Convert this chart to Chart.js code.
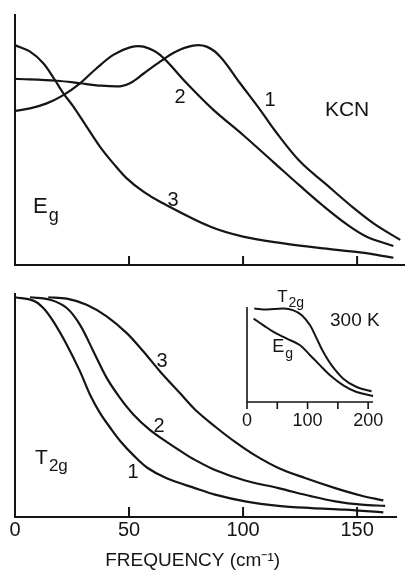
<!DOCTYPE html>
<html>
<head>
<meta charset="utf-8">
<script src="https://cdn.jsdelivr.net/npm/chart.js@4.4.1/dist/chart.umd.min.js"></script>
<style>
  body { margin: 0; background: #fff; }
  #wrap { position: relative; width: 411px; height: 571px; overflow: hidden; }
  canvas { position: absolute; }
</style>
</head>
<body>
<div id="wrap">
  <canvas id="egChart" width="411" height="280" style="left:0;top:0"></canvas>
  <canvas id="t2gChart" width="411" height="291" style="left:0;top:280px"></canvas>
  <canvas id="insetChart" width="175" height="150" style="left:230px;top:285px"></canvas>
</div>
<script>
// ---- data (frequency in cm-1, intensity in arbitrary units) ----
// upper panel, E_g, curves 1..3
const egFreq1 = [0, 18.3, 28.5, 35.8, 46.1, 50.4, 56.3, 63.6, 70, 78, 84, 90, 98.7, 107.5, 114, 125, 136.7, 146.9, 157.2, 168.9];
const eg1 = [74.2, 73.4, 72.4, 71.6, 71.2, 72.4, 76.2, 81.0, 84.8, 87.4, 87.0, 83.0, 72.4, 61.8, 53.5, 41.2, 31.9, 23.9, 16.6, 10.0];
const egFreq2 = [0, 6.6, 13.9, 21.2, 28.5, 35.8, 43.1, 50.4, 56.3, 63.6, 75.3, 87, 100, 113.3, 125, 135.2, 145.5, 154.2, 165.9];
const eg2 = [61.4, 62.4, 64.4, 67.7, 72.4, 78.4, 83.7, 86.7, 87.0, 83.7, 72.4, 61.8, 51.8, 41.0, 31.5, 23.5, 16.2, 11.3, 7.6];
const egFreq3 = [0, 6.6, 12.4, 17.5, 21.2, 25.6, 31.4, 37.3, 43.1, 49, 56.3, 63.6, 85.5, 100, 117.7, 135.2, 151.3, 165.9];
const eg3 = [87.6, 85.0, 80.4, 73.7, 68.4, 63.1, 55.1, 47.1, 40.5, 34.5, 29.2, 25.2, 15.3, 11.3, 8.6, 6.6, 5.0, 2.9];

// lower panel, T_2g, curves 1..3
const t2gFreq1 = [0, 8, 12.4, 16.8, 22.7, 28.5, 32.9, 37.3, 42, 46.5, 52, 58, 66.5, 78.9, 87.7, 100.9, 115.5, 130.1, 144.7, 161.5];
const t2g1 = [98.1, 96.6, 93.3, 87.3, 76.9, 65.0, 54.6, 46.4, 39.5, 33.5, 27.5, 22.0, 17.3, 12.9, 10.0, 7.0, 5.0, 4.0, 3.3, 2.1];
const t2gFreq2 = [6.6, 15.4, 22.7, 28.5, 34.4, 40.2, 46.1, 52, 59, 66.5, 74, 78.9, 87.7, 100.9, 115.5, 130.1, 140.4, 152, 162.3];
const t2g2 = [98.1, 97.0, 93.3, 85.8, 73.9, 62.1, 53.1, 45.7, 39.0, 33.5, 28.5, 25.5, 21.0, 16.3, 12.9, 9.2, 7.0, 5.5, 5.0];
const t2gFreq3 = [14.6, 22.7, 31.4, 40.2, 49, 56.3, 63.6, 72.4, 78.9, 87.7, 96.5, 105.3, 115.5, 127.2, 140.4, 152, 161.5];
const t2g3 = [98.1, 97.5, 94.8, 89.6, 82.1, 73.9, 65.0, 55.2, 48.0, 40.4, 33.5, 27.5, 21.9, 17.4, 12.9, 9.5, 7.4];

// inset, 300 K
const insetFreqT2g = [12, 32.9, 60.2, 76.6, 90.5, 104.1, 115.1, 126, 139.8, 158.9, 180.9, 205.6];
const insetT2g = [98.3, 97.3, 98.3, 96.5, 91.3, 80.7, 66.7, 52.6, 38.6, 24.6, 15.8, 11.3];
const insetFreqEg = [10.9, 27.3, 43.8, 65.8, 87.7, 104.1, 120.6, 137, 158.9, 180.9, 208.2];
const insetEg = [87.8, 80.7, 73.7, 66.7, 59.7, 49.2, 38.6, 28.1, 17.6, 10.5, 6.3];

// ticks
const mainTicks = [50, 100, 150];
const mainTickLabels = [0, 50, 100, 150];
const insetTicks = [0, 50, 100, 150, 200];
const insetTickLabels = [0, 100, 200];

// ---- annotations (data coordinates) ----
const egNotes = [
  { text: 'KCN', x: 145.6, y: 61.8, size: 21 },
  { text: '1', x: 111.8, y: 65.7, size: 20 },
  { text: '2', x: 72.4, y: 66.9, size: 20 },
  { text: '3', x: 69.3, y: 25.9, size: 20 },
  { text: 'E', sub: 'g', x: 7.9, y: 23.1, size: 22, left: true }
];
const t2gNotes = [
  { text: '3', x: 64.5, y: 69.3, size: 20 },
  { text: '2', x: 63.2, y: 40.3, size: 20 },
  { text: '1', x: 51.8, y: 19.8, size: 20 },
  { text: 'T', sub: '2g', x: 8.8, y: 26.2, size: 21, left: true }
];
const insetNotes = [
  { text: 'T', sub: '2g', x: 49.8, y: 110.7, size: 17, left: true },
  { text: '300 K', x: 178, y: 86, size: 19 },
  { text: 'E', sub: 'g', x: 41.6, y: 58, size: 18, left: true }
];

const ink = '#151515';
const fontName = '"Liberation Sans", Arial, sans-serif';

function pts(xs, ys) {
  return xs.map((f, i) => ({ x: f, y: ys[i] }));
}

const drawAxes = {
  id: 'drawAxes',
  afterDatasetsDraw(chart, args, o) {
    const ctx = chart.ctx;
    const a = chart.chartArea;
    const x = chart.scales.x;
    ctx.save();
    ctx.strokeStyle = ink;
    ctx.fillStyle = ink;
    ctx.lineWidth = o.lineWidth;
    ctx.beginPath();
    ctx.moveTo(a.left, a.top);
    ctx.lineTo(a.left, a.bottom);
    ctx.lineTo(a.right, a.bottom);
    o.ticks.forEach(t => {
      const px = x.getPixelForValue(t);
      ctx.moveTo(px, a.bottom);
      ctx.lineTo(px, a.bottom + o.tickLen);
    });
    ctx.stroke();

    ctx.textAlign = 'center';
    ctx.textBaseline = 'middle';
    ctx.font = o.tickSize + 'px ' + fontName;
    (o.tickLabels || []).forEach(t => {
      ctx.fillText(String(t), x.getPixelForValue(t), a.bottom + o.labelGap);
    });
    if (o.title) {
      ctx.font = o.title.size + 'px ' + fontName;
      ctx.fillText(o.title.text, x.getPixelForValue(o.title.x), a.bottom + o.title.gap);
    }

    const y = chart.scales.y;
    (o.notes || []).forEach(n => {
      const px = x.getPixelForValue(n.x);
      const py = y.getPixelForValue(n.y);
      ctx.font = n.size + 'px ' + fontName;
      ctx.textAlign = n.left ? 'left' : 'center';
      ctx.fillText(n.text, px, py);
      if (n.sub) {
        const w = ctx.measureText(n.text).width;
        ctx.font = Math.round(n.size * 0.8) + 'px ' + fontName;
        ctx.textAlign = 'left';
        ctx.fillText(n.sub, px + w + 1, py + n.size * 0.4);
      }
    });
    ctx.restore();
  }
};

function lineSet(xs, ys, w) {
  return {
    data: pts(xs, ys),
    borderColor: ink,
    borderWidth: w,
    pointRadius: 0,
    fill: false,
    tension: 0.35
  };
}

function makeChart(id, sets, xMax, padding, axesOpts) {
  return new Chart(document.getElementById(id), {
    type: 'line',
    data: { datasets: sets },
    options: {
      responsive: false,
      animation: false,
      events: [],
      clip: false,
      layout: { padding: padding },
      plugins: { legend: { display: false }, tooltip: { enabled: false }, drawAxes: axesOpts },
      scales: {
        x: { type: 'linear', min: 0, max: xMax, display: false },
        y: { min: 0, max: 100, display: false }
      }
    },
    plugins: [drawAxes]
  });
}

makeChart('egChart',
  [lineSet(egFreq1, eg1, 2.2), lineSet(egFreq2, eg2, 2.2), lineSet(egFreq3, eg3, 2.2)],
  171, { left: 15, top: 14, right: 6, bottom: 15 },
  { lineWidth: 2, ticks: mainTicks, tickLen: -9, notes: egNotes });

makeChart('t2gChart',
  [lineSet(t2gFreq1, t2g1, 2.2), lineSet(t2gFreq2, t2g2, 2.2), lineSet(t2gFreq3, t2g3, 2.2)],
  167.5, { left: 15, top: 13, right: 14, bottom: 54 },
  { lineWidth: 2, ticks: mainTicks, tickLen: -10, tickLabels: mainTickLabels, tickSize: 20, labelGap: 13,
    title: { text: 'FREQUENCY (cm\u207B\u00B9)', x: 77.9, gap: 44, size: 19 }, notes: t2gNotes });

makeChart('insetChart',
  [lineSet(insetFreqT2g, insetT2g, 2), lineSet(insetFreqEg, insetEg, 2)],
  208, { left: 17, top: 22, right: 32, bottom: 33 },
  { lineWidth: 1.6, ticks: insetTicks, tickLen: 7, tickLabels: insetTickLabels, tickSize: 18, labelGap: 19, notes: insetNotes });
</script>
</body>
</html>
